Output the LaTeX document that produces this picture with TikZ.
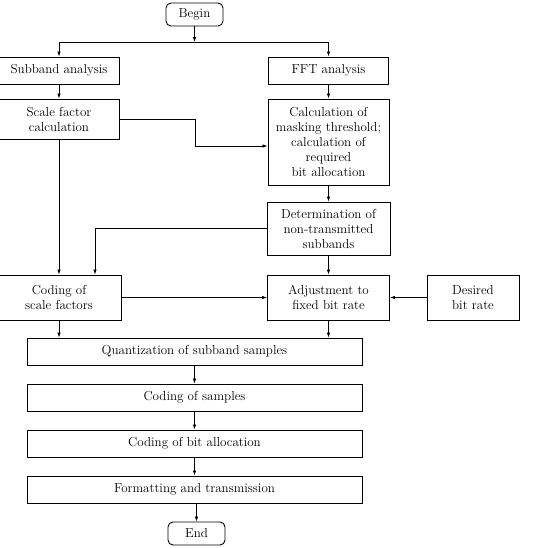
\documentclass[tikz,border=0pt]{standalone}
\usepackage{tikz}
\usetikzlibrary{calc,arrows.meta}
\usetikzlibrary{positioning}

\tikzset{
  blk/.style={draw, line width=0.9pt, align=center, inner sep=1pt,
    font=\fontsize{13}{15}\selectfont},
  term/.style={blk, rounded corners=5pt},
  arr/.style={-{Latex[length=5pt,width=3.5pt]}, line width=0.75pt}
}

\begin{document}
\begin{tikzpicture}[x=1pt,y=-1pt]
\useasboundingbox (0,0) rectangle (540,548);
\node[term, minimum width=57pt, minimum height=23pt](begin) at (194.5,14.5){Begin};
\node[blk, minimum width=120pt, minimum height=27pt](sub) at (59,70.5){Subband analysis};
\node[blk, minimum width=120pt, minimum height=27pt](fft) at (328.5,70.5){FFT analysis};
\node[blk, minimum width=120pt, minimum height=40pt](scale) at (59,119){Scale factor\\calculation};
\node[blk, minimum width=121pt, minimum height=86pt](mask) at (328.5,142){Calculation of\\masking threshold;\\calculation of\\required\\bit allocation};
\node[blk, minimum width=123pt, minimum height=53pt](det) at (328.5,228.5){Determination of\\non-transmitted\\subbands};
\node[blk, minimum width=124pt, minimum height=45pt](cod) at (59,297.5){Coding of\\scale factors};
\node[blk, minimum width=122pt, minimum height=45pt](adj) at (328.5,297.5){Adjustment to\\fixed bit rate};
\node[blk, minimum width=92pt, minimum height=45pt](des) at (473,297.5){Desired\\bit rate};
\node[blk, minimum width=335pt, minimum height=27pt](quant) at (194.5,351.5){Quantization of subband samples};
\node[blk, minimum width=335pt, minimum height=27pt](samp) at (194.5,397.5){Coding of samples};
\node[blk, minimum width=335pt, minimum height=27pt](alloc) at (194.5,443.5){Coding of bit allocation};
\node[blk, minimum width=335pt, minimum height=27pt](form) at (194.5,489.5){Formatting and transmission};
\node[term, minimum width=57pt, minimum height=23pt](endn) at (196.5,533.5){End};
\coordinate (split) at (194.5,42);
\coordinate (k1) at (195,146);
\coordinate (k2) at (95,228.5);
\draw[arr] (begin) -- (split);
\draw[arr] (split) -| (sub);
\draw[arr] (split) -| (fft);
\draw[arr] (sub) -- (scale);
\draw[arr] (fft) -- (mask);
\draw[arr] (scale.east) -| (k1) -- (k1 -| mask.west);
\draw[arr] (scale) -- (cod);
\draw[arr] (mask) -- (det);
\draw[arr] (det.west) -- (k2) -- (k2 |- cod.north);
\draw[arr] (det) -- (adj);
\draw[arr] (cod) -- (adj);
\draw[arr] (des) -- (adj);
\draw[arr] (cod.south) -- (cod.south |- quant.north);
\draw[arr] (adj.south) -- (adj.south |- quant.north);
\draw[arr] (quant) -- (samp);
\draw[arr] (samp) -- (alloc);
\draw[arr] (alloc) -- (form);
\draw[arr] (form.south -| endn) -- (endn);
\end{tikzpicture}
\end{document}
